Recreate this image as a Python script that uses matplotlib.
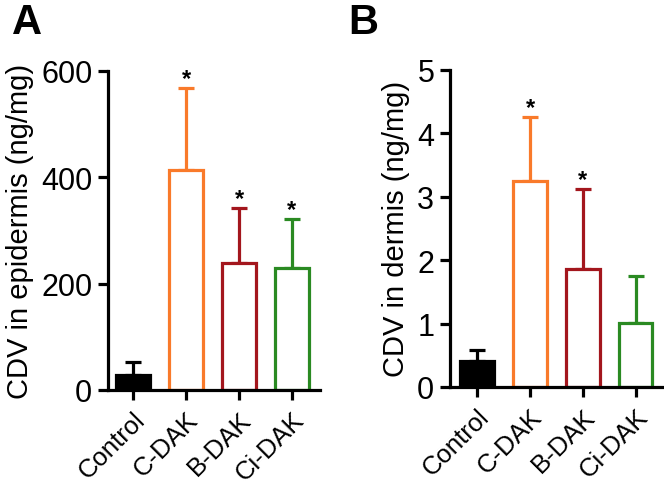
import matplotlib
matplotlib.use("Agg")
import matplotlib.pyplot as plt

plt.rcParams['font.family'] = ['Liberation Sans', 'DejaVu Sans']

groups = ['Control', 'C-DAK', 'B-DAK', 'Ci-DAK']
colors = ['#000000', '#F97A2A', '#A3161D', '#2A8A22']

epi_mean = [28, 414, 239, 229]
epi_sd = [25, 154, 103, 92]
epi_sig = [False, True, True, True]

der_mean = [0.41, 3.25, 1.86, 1.01]
der_sd = [0.18, 1.01, 1.26, 0.74]
der_sig = [False, True, True, False]


def bar_panel(ax, means, sds, sig, ylabel, ymax, yticks, xlim, star_off):
    x = range(len(groups))
    for i in x:
        c = colors[i]
        face = c if i == 0 else 'white'
        ax.bar(i, means[i], width=0.63, facecolor=face, edgecolor=c, linewidth=2.3, zorder=2)
        ax.errorbar(i, means[i], yerr=[[0], [sds[i]]], color=c, elinewidth=2.3,
                    capsize=6, capthick=2.3, zorder=1)
        if sig[i]:
            ax.text(i, means[i] + sds[i] + star_off, '*', ha='center', va='center',
                    fontsize=17, fontweight='bold')
    ax.set_xlim(*xlim)
    ax.set_ylim(0, ymax)
    ax.set_yticks(yticks)
    ax.set_xticks(list(x))
    ax.set_xticklabels(groups, rotation=45, ha='right', rotation_mode='anchor', fontsize=18.5)
    ax.tick_params(axis='y', labelsize=22, width=2.3, length=7.5, direction='out', pad=4)
    ax.tick_params(axis='x', width=2.3, length=7.5, direction='out', pad=5)
    ax.set_ylabel(ylabel, fontsize=21, labelpad=5)
    for s in ['top', 'right']:
        ax.spines[s].set_visible(False)
    for s in ['left', 'bottom']:
        ax.spines[s].set_linewidth(2.3)


fig = plt.figure(figsize=(6.64, 4.85), dpi=100)
axA = fig.add_axes([0.163, 0.194, 0.319, 0.658])
axB = fig.add_axes([0.678, 0.2, 0.32, 0.654])

bar_panel(axA, epi_mean, epi_sd, epi_sig, 'CDV in epidermis (ng/mg)', 600,
          [0, 200, 400, 600], (-0.47, 3.53), 18)
bar_panel(axB, der_mean, der_sd, der_sig, 'CDV in dermis (ng/mg)', 5,
          [0, 1, 2, 3, 4, 5], (-0.51, 3.51), 0.15)

fig.text(0.018, 0.93, 'A', fontsize=30, fontweight='bold')
fig.text(0.525, 0.93, 'B', fontsize=30, fontweight='bold')

fig.savefig('out.png', dpi=100)
